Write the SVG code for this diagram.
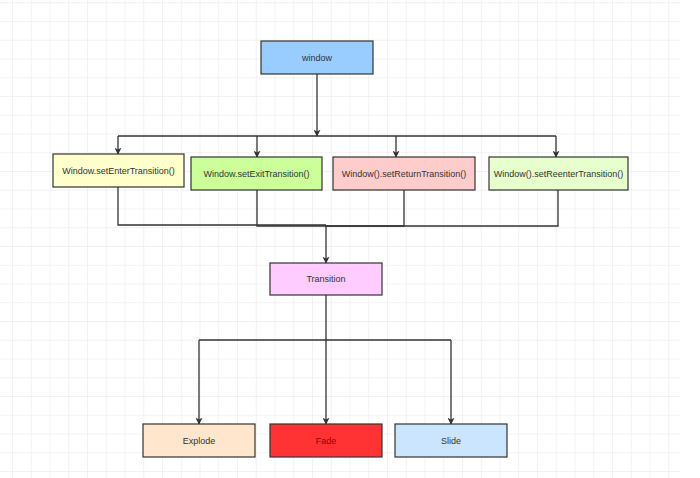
<svg xmlns="http://www.w3.org/2000/svg" width="700" height="478" viewBox="0 0 700 478">
  <style>
    .box { stroke: #333333; stroke-width: 1.2; }
    .lbl { font-family: "Liberation Sans", Arial, sans-serif; font-size: 9px; fill: #333333; text-anchor: middle; dominant-baseline: central; }
    .conn { fill: none; stroke: #333333; stroke-width: 1.3; }
  </style>
  <defs>
    <pattern id="grid" x="12" y="2.25" width="18.75" height="18.75" patternUnits="userSpaceOnUse">
      <path d="M 0 0 H 18.75 M 0 0 V 18.75" fill="none" stroke="#e6e6e6" stroke-width="1"/>
    </pattern>
    <marker id="arrow" viewBox="0 0 10 10" refX="9" refY="5" markerWidth="7" markerHeight="7" markerUnits="userSpaceOnUse" orient="auto">
      <path d="M 0 0 L 10 5 L 0 10 L 2.5 5 Z" fill="#333333"/>
    </marker>
  </defs>
  <rect width="700" height="478" fill="#ffffff"/>
  <rect x="0" y="0" width="680" height="478" fill="url(#grid)"/>

  <g id="connectors">
    <path class="conn" d="M 317 74 V 136" marker-end="url(#arrow)"/>
    <path class="conn" d="M 118 136 H 556"/>
    <path class="conn" d="M 118 136 V 154" marker-end="url(#arrow)"/>
    <path class="conn" d="M 257 136 V 157" marker-end="url(#arrow)"/>
    <path class="conn" d="M 396 136 V 157" marker-end="url(#arrow)"/>
    <path class="conn" d="M 556 136 V 157" marker-end="url(#arrow)"/>
    <path class="conn" d="M 118 187 V 225 H 326"/>
    <path class="conn" d="M 257 190 V 226 H 326"/>
    <path class="conn" d="M 404 190 V 226 H 326"/>
    <path class="conn" d="M 558 190 V 226 H 326"/>
    <path class="conn" d="M 326 225 V 263" marker-end="url(#arrow)" stroke-width="1.8"/>
    <path class="conn" d="M 326 295 V 340"/>
    <path class="conn" d="M 199 340 H 451"/>
    <path class="conn" d="M 199 340 V 424" marker-end="url(#arrow)"/>
    <path class="conn" d="M 326 340 V 424" marker-end="url(#arrow)"/>
    <path class="conn" d="M 451 340 V 424" marker-end="url(#arrow)"/>
  </g>

  <g id="window">
    <rect class="box" x="261" y="41" width="112" height="33" fill="#99ccff"/>
    <text class="lbl" x="317" y="57.5">window</text>
  </g>
  <g id="enter">
    <rect class="box" x="53" y="154" width="131" height="33" fill="#ffffcc"/>
    <text class="lbl" x="118.5" y="170.5">Window.setEnterTransition()</text>
  </g>
  <g id="exit">
    <rect class="box" x="191" y="157" width="131" height="33" fill="#ccff99"/>
    <text class="lbl" x="256.5" y="173.5">Window.setExitTransition()</text>
  </g>
  <g id="return">
    <rect class="box" x="333" y="157" width="142" height="33" fill="#ffcccc"/>
    <text class="lbl" x="404" y="173.5">Window().setReturnTransition()</text>
  </g>
  <g id="reenter">
    <rect class="box" x="489" y="157" width="139" height="33" fill="#e6ffcc"/>
    <text class="lbl" x="558.5" y="173.5">Window().setReenterTransition()</text>
  </g>
  <g id="transition">
    <rect class="box" x="270" y="263" width="112" height="32" fill="#ffccff"/>
    <text class="lbl" x="326" y="279">Transition</text>
  </g>
  <g id="explode">
    <rect class="box" x="143" y="424" width="112" height="33" fill="#ffe6cc"/>
    <text class="lbl" x="199" y="440.5">Explode</text>
  </g>
  <g id="fade">
    <rect class="box" x="270" y="424" width="112" height="33" fill="#ff3333"/>
    <text class="lbl" x="326" y="440.5" style="fill:#990000">Fade</text>
  </g>
  <g id="slide">
    <rect class="box" x="395" y="424" width="112" height="33" fill="#cce5ff"/>
    <text class="lbl" x="451" y="440.5">Slide</text>
  </g>
</svg>
